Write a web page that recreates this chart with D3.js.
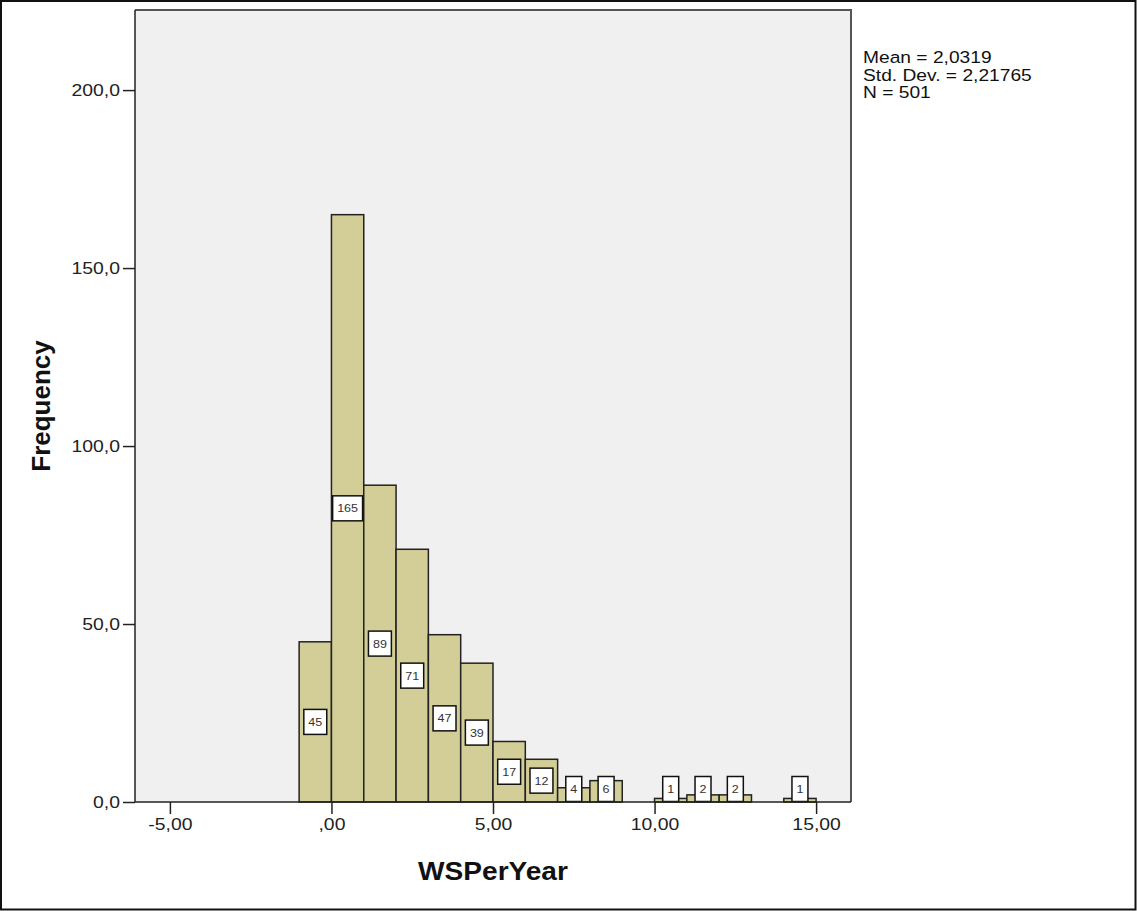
<!DOCTYPE html>
<html>
<head>
<meta charset="utf-8">
<script src="https://cdn.jsdelivr.net/npm/d3@7"></script>
<style>
  body { margin: 0; background: #fff; }
  svg { display: block; font-family: "Liberation Sans", Arial, sans-serif; }
</style>
</head>
<body>
<svg id="chart" width="1137" height="911"></svg>
<script>
// Histogram of WSPerYear, bins of width 1
const binStarts = [-1, 0, 1, 2, 3, 4, 5, 6, 7, 8, 9, 10, 11, 12, 13, 14];
const binCounts = [45, 165, 89, 71, 47, 39, 17, 12, 4, 6, 0, 1, 2, 2, 0, 1];
const binWidth = 1;

const xTickValues = [-5, 0, 5, 10, 15];
const xTickLabels = ["-5,00", ",00", "5,00", "10,00", "15,00"];
const yTickValues = [0, 50, 100, 150, 200];
const yTickLabels = ["0,0", "50,0", "100,0", "150,0", "200,0"];

const statLines = ["Mean = 2,0319", "Std. Dev. = 2,21765", "N = 501"];
const xTitle = "WSPerYear";
const yTitle = "Frequency";

const svg = d3.select("#chart");
const W = 1137, H = 911;
const plot = { left: 135, top: 10, right: 851, bottom: 802 };
const sx = 1.14; // horizontal widening of the text glyphs

const x = d3.scaleLinear().domain([-6.08, 16.08]).range([plot.left, plot.right]);
const y = d3.scaleLinear().domain([0, 222.5]).range([plot.bottom, plot.top]);

// outer frame
svg.append("rect")
  .attr("x", 1).attr("y", 1).attr("width", W - 2.5).attr("height", H - 2.5)
  .attr("fill", "#fff").attr("stroke", "#111").attr("stroke-width", 2);

// plot background
svg.append("rect")
  .attr("x", plot.left).attr("y", plot.top)
  .attr("width", plot.right - plot.left).attr("height", plot.bottom - plot.top)
  .attr("fill", "#f0f0f0");

// bars
const bins = binStarts.map((s, i) => ({ x0: s, x1: s + binWidth, n: binCounts[i] }))
  .filter(d => d.n > 0);

svg.append("g").selectAll("rect").data(bins).join("rect")
  .attr("x", d => x(d.x0))
  .attr("y", d => y(d.n))
  .attr("width", d => x(d.x1) - x(d.x0))
  .attr("height", d => y(0) - y(d.n))
  .attr("fill", "#d3ce97")
  .attr("stroke", "#222")
  .attr("stroke-width", 1.5);

// value labels in white boxes
const boxH = 25;
const lab = svg.append("g").selectAll("g").data(bins).join("g");
lab.each(function (d) {
  const g = d3.select(this);
  const cx = (x(d.x0) + x(d.x1)) / 2;
  const cy = Math.min(y(d.n / 2), y(0) - boxH / 2 - 0.5);
  const rect = g.append("rect");
  const t = g.append("text")
    .attr("transform", `translate(${cx},${cy + 4}) scale(${sx},1)`)
    .attr("text-anchor", "middle")
    .attr("font-size", 11)
    .attr("fill", "#333")
    .text(d.n);
  const w = t.node().getComputedTextLength() * sx + 9;
  rect.attr("x", cx - w / 2).attr("y", cy - boxH / 2)
    .attr("width", w).attr("height", boxH)
    .attr("fill", "#fff").attr("stroke", "#111").attr("stroke-width", 1.5);
});

// axes
const yAxis = d3.axisLeft(y)
  .tickValues(yTickValues)
  .tickFormat((d, i) => yTickLabels[i])
  .tickSize(12).tickSizeOuter(0).tickPadding(3);
const gy = svg.append("g").attr("transform", `translate(${plot.left},0)`).call(yAxis);
gy.select(".domain").remove();
gy.selectAll("line").attr("stroke", "#222").attr("stroke-width", 1.5);
gy.selectAll("text")
  .attr("font-size", 17).attr("fill", "#222").attr("font-family", null)
  .attr("x", -15 / sx)
  .attr("transform", `scale(${sx},1)`);

const xAxis = d3.axisBottom(x)
  .tickValues(xTickValues)
  .tickFormat((d, i) => xTickLabels[i])
  .tickSize(12).tickSizeOuter(0).tickPadding(4);
const gx = svg.append("g").attr("transform", `translate(0,${plot.bottom})`).call(xAxis);
gx.select(".domain").remove();
gx.selectAll("line").attr("stroke", "#222").attr("stroke-width", 1.5);
gx.selectAll("text")
  .attr("font-size", 17).attr("fill", "#222").attr("font-family", null)
  .attr("transform", `scale(${sx},1)`);

// plot frame: axis line on bottom and left, gray on top and right
svg.append("path")
  .attr("d", `M${plot.left},${plot.top}H${plot.right}V${plot.bottom}`)
  .attr("fill", "none").attr("stroke", "#555").attr("stroke-width", 2);
svg.append("path")
  .attr("d", `M${plot.left},${plot.top}V${plot.bottom}H${plot.right}`)
  .attr("fill", "none").attr("stroke", "#222").attr("stroke-width", 1.5);

// axis titles
svg.append("text")
  .attr("transform", `translate(${(plot.left + plot.right) / 2},880) scale(1.08,1)`)
  .attr("text-anchor", "middle")
  .attr("font-size", 26).attr("font-weight", "bold").attr("fill", "#111")
  .text(xTitle);
svg.append("text")
  .attr("transform", `translate(50,${(plot.top + plot.bottom) / 2}) rotate(-90)`)
  .attr("text-anchor", "middle")
  .attr("font-size", 26).attr("font-weight", "bold").attr("fill", "#111")
  .text(yTitle);

// summary statistics
svg.append("g").selectAll("text").data(statLines).join("text")
  .attr("transform", (d, i) => `translate(863,${63 + i * 17.5}) scale(1.13,1)`)
  .attr("font-size", 17).attr("fill", "#111")
  .text(d => d);
</script>
</body>
</html>
